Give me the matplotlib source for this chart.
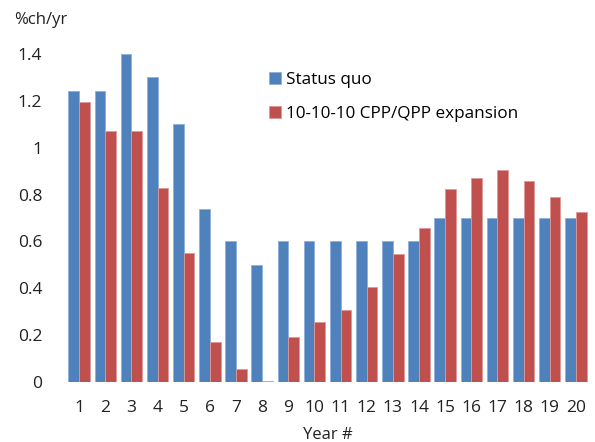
import matplotlib
matplotlib.use("Agg")
import matplotlib.pyplot as plt
import numpy as np

plt.rcParams['font.family'] = ['Open Sans', 'DejaVu Sans']

years = [str(i) for i in range(1, 21)]
status_quo = [1.24, 1.24, 1.40, 1.30, 1.10, 0.74, 0.60, 0.50, 0.60, 0.60,
              0.60, 0.60, 0.60, 0.60, 0.70, 0.70, 0.70, 0.70, 0.70, 0.70]
expansion = [1.195, 1.07, 1.07, 0.83, 0.55, 0.172, 0.054, 0.005, 0.19, 0.257,
             0.307, 0.404, 0.545, 0.659, 0.822, 0.872, 0.906, 0.86, 0.788, 0.727]
yticks = [0, 0.2, 0.4, 0.6, 0.8, 1, 1.2, 1.4]
ytick_labels = ['0', '0.2', '0.4', '0.6', '0.8', '1', '1.2', '1.4']

fig = plt.figure(figsize=(5.95, 4.42), dpi=100)
ax = fig.add_axes([66/595, 1-382/442, (589-66)/595, (382-54)/442])

x = np.arange(len(years))
w = 0.41
ax.bar(x - w/2, status_quo, w, color='#4F81BD', edgecolor='#8DB0DB', linewidth=0.6, label='Status quo')
ax.bar(x + w/2, expansion, w, color='#C0504D', edgecolor='#E09896', linewidth=0.6, label='10-10-10 CPP/QPP expansion')

ax.set_xlim(-0.5, len(years) - 0.5)
ax.set_ylim(0, 1.4)
ax.set_yticks(yticks)
ax.set_yticklabels(ytick_labels, fontsize=12.5)
ax.set_xticks(x)
ax.set_xticklabels(years, fontsize=12.5)
for s in ax.spines.values():
    s.set_visible(False)
ax.tick_params(axis='both', length=0, colors='#222222')
ax.tick_params(axis='y', pad=17)
ax.tick_params(axis='x', pad=13)
ax.set_xlabel('Year #', fontsize=12, labelpad=8, color='#222222')

fig.text(14/595, 1-20/442, '%ch/yr', fontsize=12, va='center', ha='left', color='#222222')

leg = ax.legend(loc='upper left', bbox_to_anchor=(262/595, 1-65/442), bbox_transform=fig.transFigure,
                frameon=False, fontsize=12.3, handlelength=0.7, handleheight=0.7,
                handletextpad=0.3, labelspacing=1.05, borderaxespad=0)

fig.savefig('out.png', dpi=100)
